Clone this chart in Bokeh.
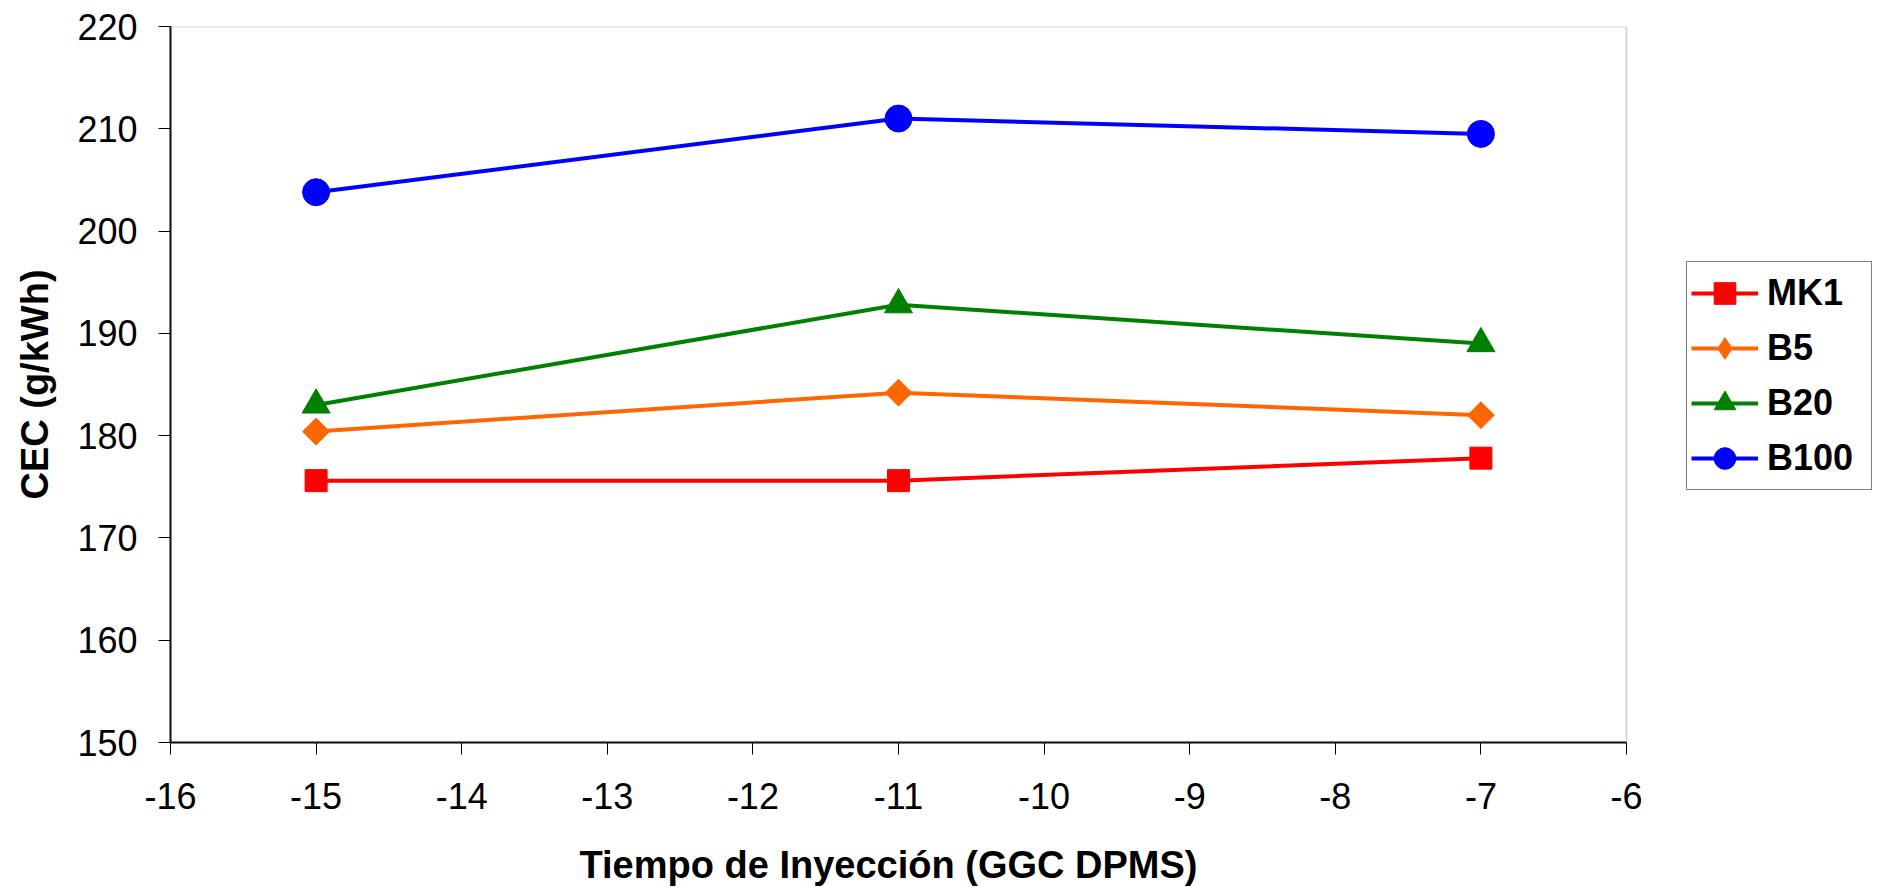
import math
from bokeh.plotting import figure
from bokeh.models import (Legend, LegendItem, Range1d, FixedTicker, BoxAnnotation, Title)
from bokeh.embed import file_html
from bokeh.resources import INLINE

x_vals = [-15, -11, -7]
mk1 = [175.6, 175.6, 177.8]
b5 = [180.4, 184.2, 182.0]
b20 = [183.0, 192.8, 189.0]
b100 = [203.8, 211.0, 209.5]
series_names = ["MK1", "B5", "B20", "B100"]
x_ticks = list(range(-16, -5))
y_ticks = list(range(150, 221, 10))
x_min, x_max = -16, -6
y_min, y_max = 150, 220
x_title = "Tiempo de Inyección (GGC DPMS)"
y_title = "CEC (g/kWh)"

FONT = "Liberation Sans"

# the data area (x -16..-6) is 1456 px wide; the frame continues 253 px further right
# so that the legend can sit to the right of the plotted box
PLOT_W, EXTRA_W = 1456, 253
x_end = x_max + EXTRA_W * (x_max - x_min) / PLOT_W

p = figure(frame_width=PLOT_W + EXTRA_W, frame_height=716, output_backend="svg",
           toolbar_location=None,
           x_range=Range1d(x_min, x_end), y_range=Range1d(y_min, y_max),
           min_border_left=170, min_border_right=0, min_border_top=26, min_border_bottom=145)
p.background_fill_color = "white"
p.border_fill_color = "white"
p.outline_line_color = None
p.xgrid.visible = False
p.ygrid.visible = False

# grey box around the plotting area (top and right edges)
p.add_layout(BoxAnnotation(left=x_min, right=x_max, bottom=y_min, top=y_max,
                           fill_alpha=0, line_color="#808080", line_width=2))

for ax in (p.xaxis[0], p.yaxis[0]):
    ax.axis_line_color = "black"
    ax.axis_line_width = 2
    ax.major_tick_line_color = "black"
    ax.major_tick_line_width = 1
    ax.major_tick_out = 12
    ax.major_tick_in = 0
    ax.minor_tick_out = 0
    ax.minor_tick_in = 0
    ax.major_label_text_font = FONT
    ax.major_label_text_font_size = "36px"
    ax.major_label_text_color = "black"
    ax.axis_label_text_font = FONT
    ax.axis_label_text_font_style = "bold"
    ax.axis_label_text_font_size = "38px"
    ax.axis_label_text_color = "black"

p.xaxis.bounds = (x_min, x_max)
p.xaxis.ticker = FixedTicker(ticks=x_ticks)
p.yaxis.ticker = FixedTicker(ticks=y_ticks)
p.xaxis.major_label_overrides = {t: str(t) for t in x_ticks}
p.xaxis.major_label_standoff = 28
p.yaxis.major_label_standoff = 21
p.yaxis.axis_label = y_title
p.yaxis.axis_label_standoff = 18

# x-axis title centred under the plotted box (not under the wider frame)
p.add_layout(Title(text=x_title, align="left", offset=409, standoff=60,
                   text_font=FONT, text_font_style="bold", text_font_size="38px",
                   text_color="black"), "below")

lw = 4
r1l = p.line(x_vals, mk1, line_color="#FF0000", line_width=lw)
r1m = p.scatter(x_vals, mk1, marker="square", size=22, fill_color="#FF0000", line_color="#FF0000")
r2l = p.line(x_vals, b5, line_color="#FF6600", line_width=lw)
# diamond used for the legend (drawn underneath, hidden by the rotated square)
r2k = p.scatter(x_vals, b5, marker="diamond", size=26, fill_color="#FF6600", line_color="#FF6600")
r2m = p.scatter(x_vals, b5, marker="square", angle=math.pi / 4, size=19,
                fill_color="#FF6600", line_color="#FF6600")
r3l = p.line(x_vals, b20, line_color="#008000", line_width=lw)
r3m = p.scatter(x_vals, b20, marker="triangle", size=28, fill_color="#008000", line_color="#008000")
r4l = p.line(x_vals, b100, line_color="#0000FF", line_width=lw)
r4m = p.scatter(x_vals, b100, marker="circle", size=27, fill_color="#0000FF", line_color="#0000FF")

legend = Legend(items=[
    LegendItem(label=series_names[0], renderers=[r1l, r1m]),
    LegendItem(label=series_names[1], renderers=[r2l, r2k]),
    LegendItem(label=series_names[2], renderers=[r3l, r3m]),
    LegendItem(label=series_names[3], renderers=[r4l, r4m]),
], location=(1516, 252))
legend.label_text_font = FONT
legend.label_text_font_style = "bold"
legend.label_text_font_size = "36px"
legend.label_text_color = "black"
legend.glyph_width = 67
legend.glyph_height = 54
legend.label_standoff = 9
legend.label_width = 100
legend.spacing = 1
legend.padding = 4
legend.margin = 0
legend.border_line_color = "black"
legend.border_line_width = 1
legend.background_fill_color = "white"
legend.background_fill_alpha = 1
p.add_layout(legend, "center")

open("out.html", "w").write(file_html(p, INLINE))
